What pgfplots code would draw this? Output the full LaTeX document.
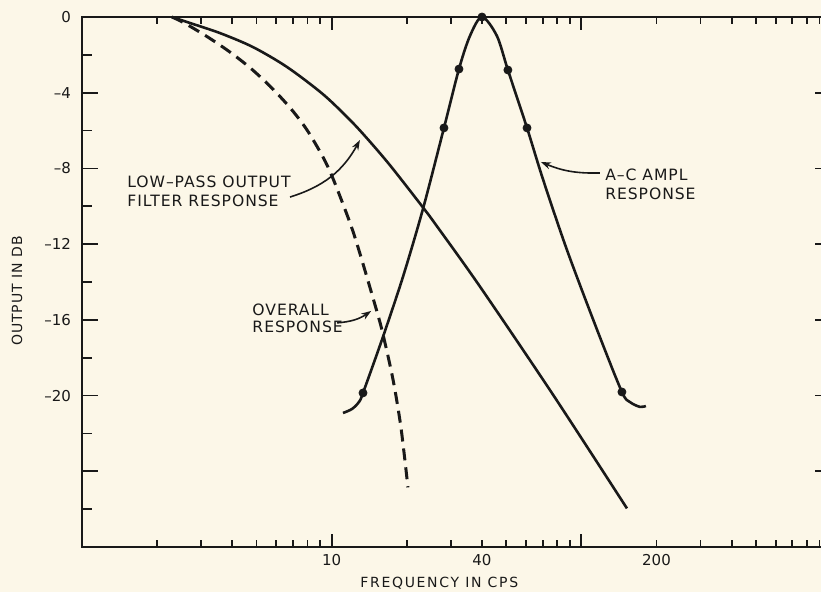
\documentclass[border=0pt]{standalone}
\usepackage{pgfplots}
\pgfplotsset{compat=1.18}
\usepackage{fontspec}
\setmainfont{DejaVu Sans}
\newfontfamily\ann[LetterSpace=6]{DejaVu Sans}
\newfontfamily\labx[LetterSpace=12]{DejaVu Sans}
\newfontfamily\laby[LetterSpace=7]{DejaVu Sans}
\usetikzlibrary{arrows.meta}
\definecolor{paper}{RGB}{252,247,232}
\definecolor{ink}{RGB}{25,25,25}
\pgfdeclarelayer{bg}
\pgfsetlayers{bg,main}

\begin{document}
\begin{tikzpicture}
% axis A: y ticks and the data
\begin{axis}[
  xmode=log, xmin=1, xmax=1000, ymin=-28, ymax=0,
  width=374.5pt, height=265pt, scale only axis,
  axis line style={line width=1pt, draw=ink},
  tick style={line width=0.9pt, draw=ink},
  tick align=inside,
  major tick length=8pt, minor tick length=5pt,
  xtick=\empty,
  ytick={0,-4,-8,-12,-16,-20,-24,-28},
  minor ytick={-2,-6,-10,-14,-18,-22,-26},
  yticklabels={0,–4,–8,–12,–16,–20,{},{}},
  yticklabel style={font=\fontsize{7.5}{9}\selectfont, xshift=-2pt, text=ink},
  ylabel={\laby OUTPUT IN DB},
  ylabel style={at={(rel axis cs:0,0.483)}, yshift=32.5pt, anchor=center, font=\fontsize{7}{8}\selectfont, text=ink},
  clip=false,
]
\coordinate (bl) at (rel axis cs:0,0);
\coordinate (tr) at (rel axis cs:1,1);
% low-pass output filter response
\addplot[draw=ink, line width=1.3pt, smooth] coordinates {
(2.29,0) (2.71,-0.32) (3.57,-0.85) (4.84,-1.59) (6.62,-2.64) (9.23,-4.08)
(11.84,-5.44) (13.85,-6.41) (17.12,-7.83) (23.21,-10.06) (26.42,-11.06)
(39.26,-14.24) (76.9,-19.94) (152.3,-25.96)
};
% overall response (dashed)
\addplot[draw=ink, line width=1.5pt, smooth, dash pattern=on 6pt off 3.5pt] coordinates {
(2.29,0) (2.47,-0.20) (2.78,-0.58) (3.26,-1.14) (3.91,-1.85) (4.71,-2.68)
(5.66,-3.65) (6.81,-4.79) (7.96,-5.96) (9.23,-7.40) (10.12,-8.53) (11.84,-10.87)
(12.98,-12.50) (15.18,-15.56) (16.05,-16.76) (17.60,-19.14) (18.94,-21.67) (20.21,-24.85)
};
% A-C amplifier response
\addplot[draw=ink, line width=1.3pt, smooth] coordinates {
(11.10,-20.92) (12.06,-20.71) (12.86,-20.34) (13.35,-19.86) (16.05,-16.90)
(19.30,-13.73) (23.21,-10.14) (28.17,-5.86) (32.35,-2.75) (35.8,-1.00) (40,0)
(45.9,-1.00) (50.8,-2.80) (60.6,-5.86) (70.2,-8.57) (87.6,-12.31) (115.5,-16.51)
(145.4,-19.81) (156.5,-20.34) (171.7,-20.60) (181.4,-20.55)
};
\addplot[only marks, mark=*, mark size=2pt, draw=ink, fill=ink] coordinates {
(13.35,-19.86) (28.17,-5.86) (32.35,-2.75) (40,0) (50.8,-2.80) (60.6,-5.86) (145.4,-19.81)
};
% annotations
\node[anchor=west, inner sep=0pt, text=ink, font={\fontsize{7.8}{9}\ann}] at (axis cs:1.514,-8.72) {LOW–PASS OUTPUT};
\node[anchor=west, inner sep=0pt, text=ink, font={\fontsize{7.8}{9}\ann}] at (axis cs:1.514,-9.72) {FILTER RESPONSE};
\node[anchor=west, inner sep=0pt, text=ink, font={\fontsize{7.8}{9}\ann}] at (axis cs:4.80,-15.48) {OVERALL};
\node[anchor=west, inner sep=0pt, text=ink, font={\fontsize{7.8}{9}\ann}] at (axis cs:4.80,-16.38) {RESPONSE};
\node[anchor=west, inner sep=0pt, text=ink, font={\fontsize{7.8}{9}\ann}] at (axis cs:124.3,-8.35) {A–C AMPL};
\node[anchor=west, inner sep=0pt, text=ink, font={\fontsize{7.8}{9}\ann}] at (axis cs:124.3,-9.35) {RESPONSE};
\draw[draw=ink, line width=0.8pt, -{Stealth[length=5pt, width=3.5pt]}] (axis cs:6.81,-9.51) to[bend right=22] (axis cs:12.98,-6.50);
\draw[draw=ink, line width=0.8pt, -{Stealth[length=5pt, width=3.5pt]}] (axis cs:10.5,-16.16) to[bend right=15] (axis cs:14.4,-15.53);
\draw[draw=ink, line width=0.8pt, -{Stealth[length=5pt, width=3.5pt]}] (axis cs:118.7,-8.24) to[bend left=12] (axis cs:68.9,-7.66);
\end{axis}
% axis B: x ticks only
\begin{axis}[
  xmode=log, xmin=1, xmax=1000, ymin=-28, ymax=0,
  width=374.5pt, height=265pt, scale only axis,
  axis line style={draw=none},
  tick style={line width=0.9pt, draw=ink},
  tick align=inside,
  major tick length=6.5pt, minor tick length=3.5pt,
  ytick=\empty,
  xtick={10,100}, xticklabels={10,{}},
  minor xtick={2,3,4,5,6,7,8,9,20,30,40,50,60,70,80,90,200,300,400,500,600,700,800,900},
  extra x ticks={40,200}, extra x tick labels={40,200},
  extra x tick style={major tick length=0pt},
  xticklabel style={font=\fontsize{7.5}{9}\selectfont, text=ink},
  xlabel={\labx FREQUENCY IN CPS},
  xlabel style={at={(rel axis cs:0.477,0)}, yshift=-18pt, anchor=center, font=\fontsize{7}{8}\selectfont, text=ink},
]
\end{axis}
\pgfresetboundingbox
\path ([shift={(-41pt,-22.5pt)}]bl) rectangle ([shift={(-5pt,8.5pt)}]tr);
\begin{pgfonlayer}{bg}
\fill[paper] ([shift={(-41pt,-22.5pt)}]bl) rectangle ([shift={(-5pt,8.5pt)}]tr);
\end{pgfonlayer}
\end{tikzpicture}
\end{document}
